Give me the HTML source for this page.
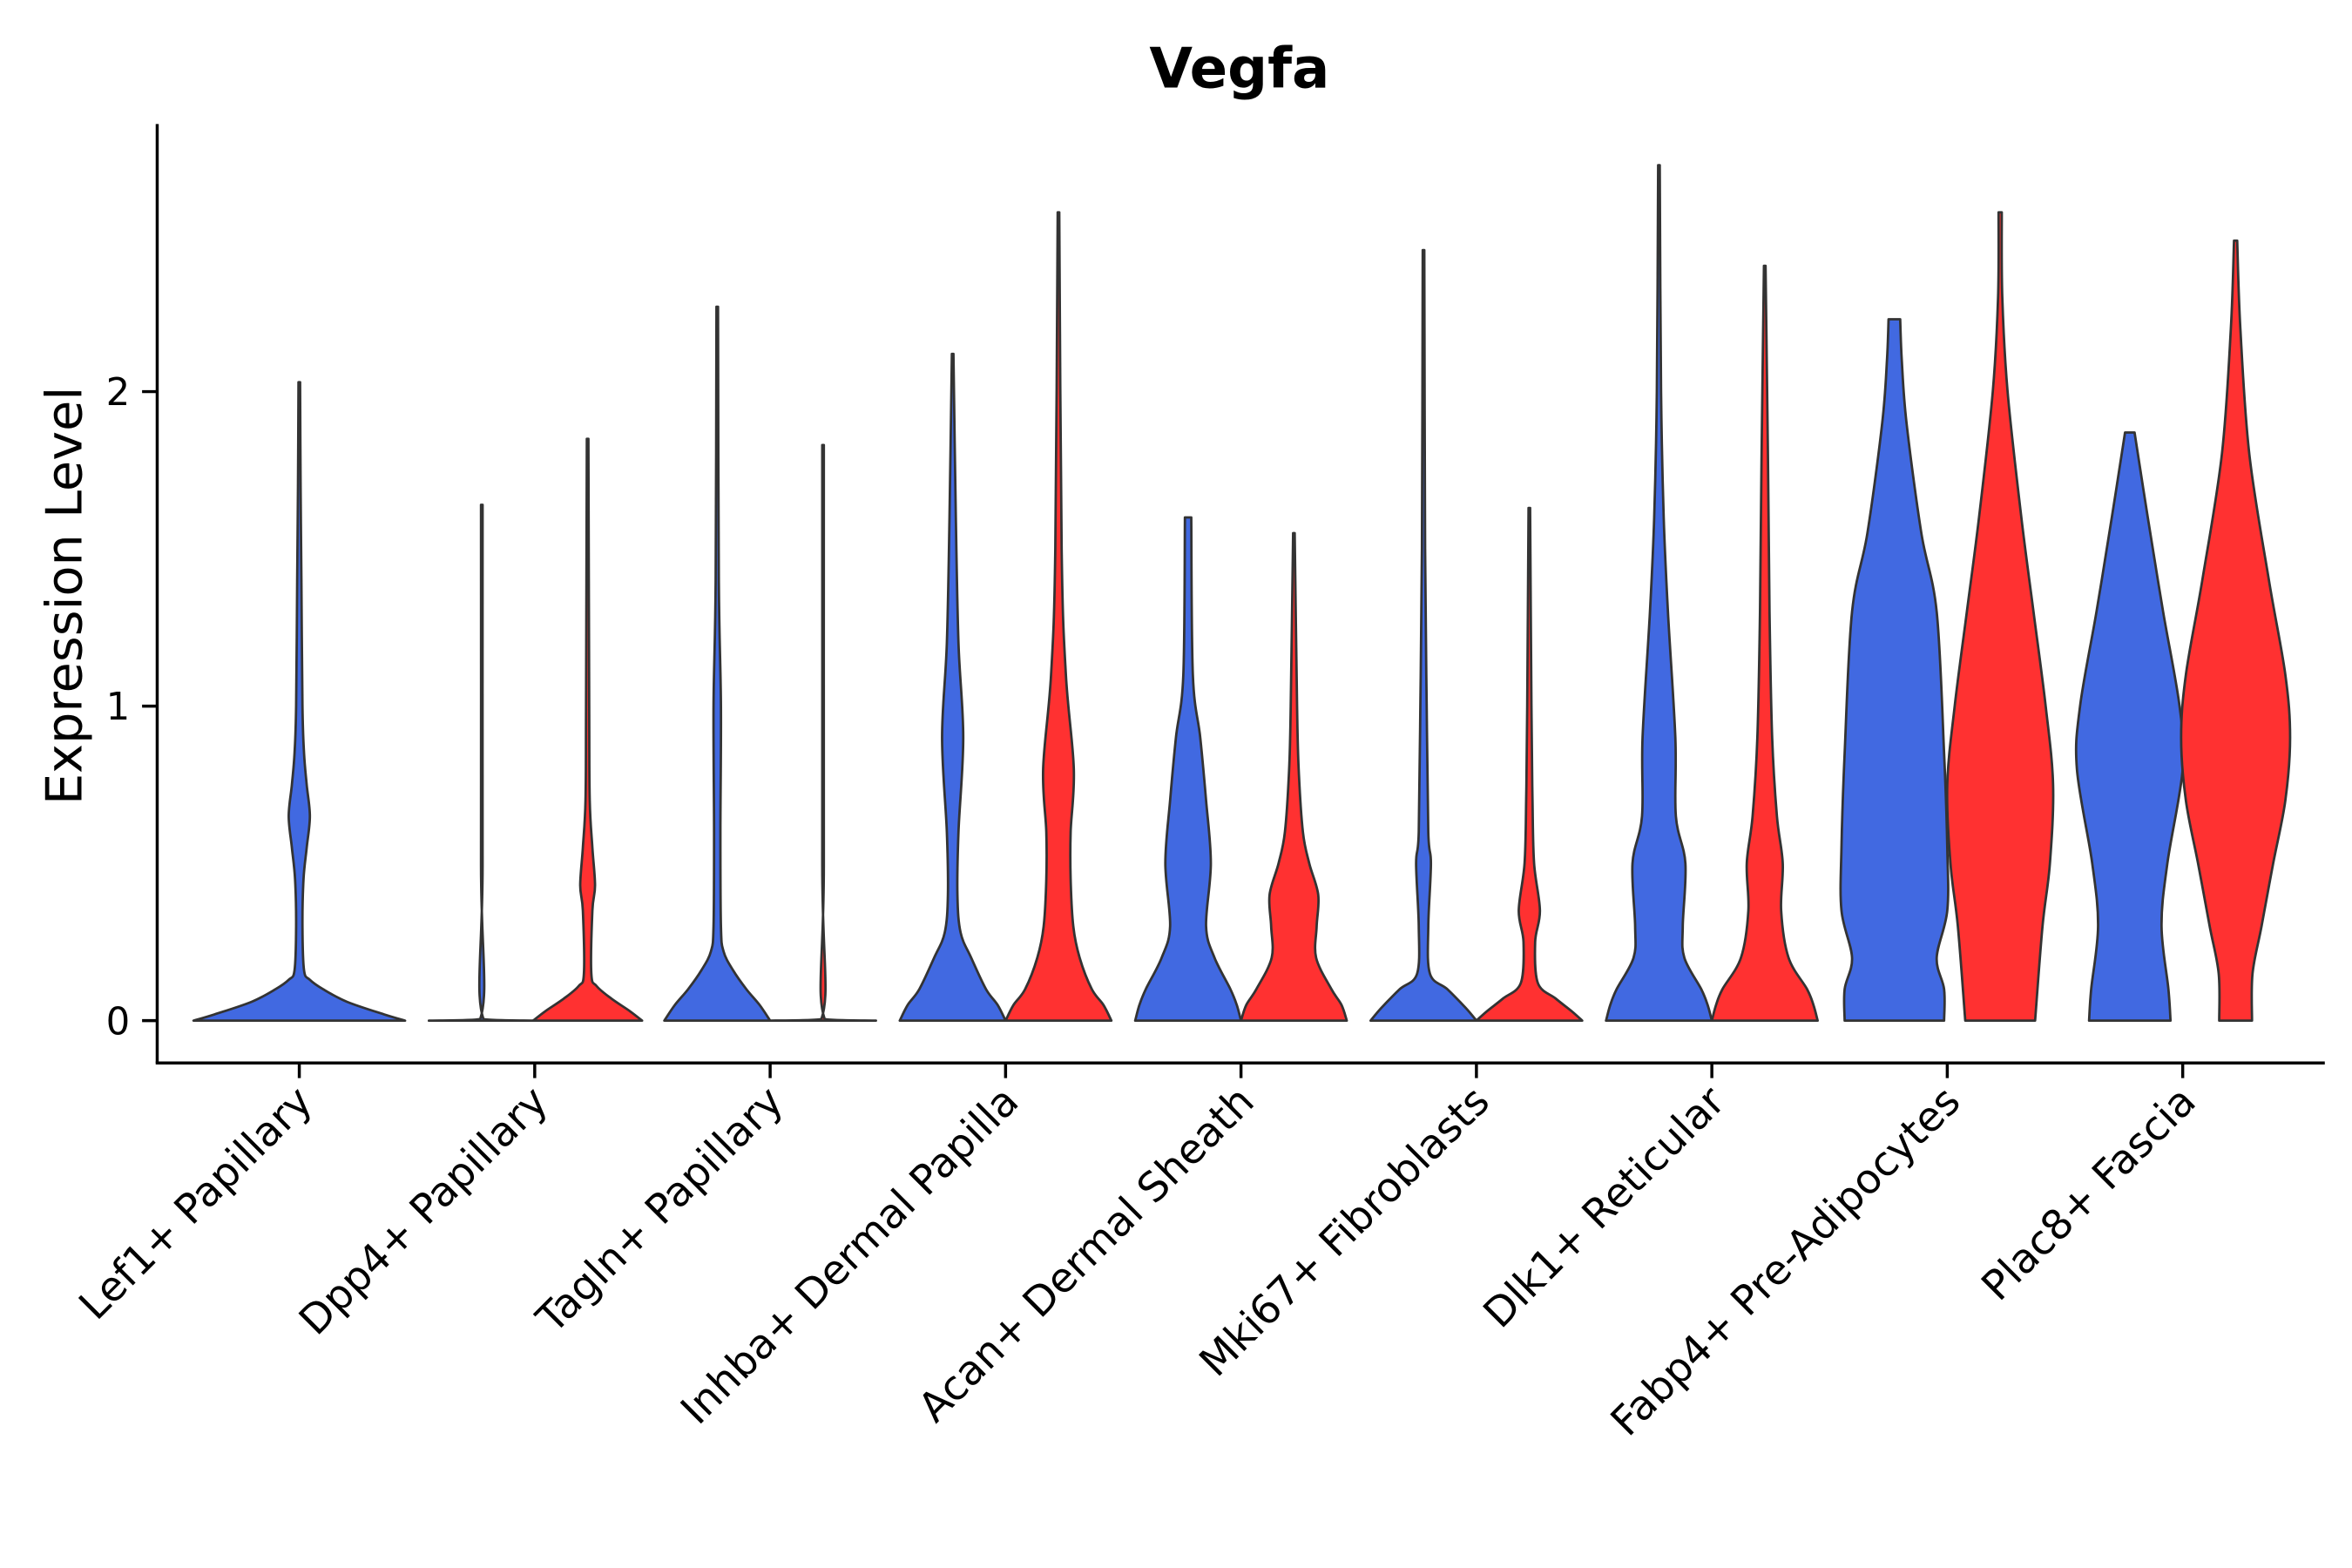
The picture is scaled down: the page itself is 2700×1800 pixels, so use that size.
<!DOCTYPE html>
<html><head><meta charset="utf-8"><style>
html,body{margin:0;padding:0;background:#fff;}
svg{display:block;font-family:"DejaVu Sans","Liberation Sans",sans-serif;}
</style></head><body>
<svg id="chart" width="2700" height="1800" viewBox="0 0 1556 1037" preserveAspectRatio="none" xmlns="http://www.w3.org/2000/svg">
<rect x="0" y="0" width="1556" height="1037" fill="#fff"/>
<text x="820" y="58" text-anchor="middle" font-weight="bold" font-size="37">Vegfa</text>
<text transform="translate(54,394) rotate(-90)" text-anchor="middle" font-size="33">Expression Level</text>
<g id="plot"></g>
<line x1="104" y1="82" x2="104" y2="703" stroke="#000" stroke-width="2"/>
<line x1="103" y1="703" x2="1538" y2="703" stroke="#000" stroke-width="2"/>
</svg>
<script>
const categories = ["Lef1+ Papillary","Dpp4+ Papillary","Tagln+ Papillary","Inhba+ Dermal Papilla","Acan+ Dermal Sheath","Mki67+ Fibroblasts","Dlk1+ Reticular","Fabp4+ Pre-Adipocytes","Plac8+ Fascia"];
const yTicks = [0, 1, 2];
// violin profiles: [expression value, relative density]
const blueLevels = [
 [[0,2],[0.02,1.6],[0.06,0.9],[0.1,0.45],[0.13,0.2],[0.16,0.09],[0.3,0.06],[0.45,0.08],[0.55,0.14],[0.65,0.2],[0.75,0.14],[0.85,0.09],[1.0,0.06],[1.4,0.04],[1.7,0.025],[2.03,0.015]],
 [[0,1],[0.005,0.03],[0.5,0.015],[1.64,0.015]],
 [[0,1],[0.05,0.8],[0.1,0.55],[0.16,0.3],[0.22,0.12],[0.3,0.07],[0.6,0.06],[1.0,0.07],[1.4,0.03],[2.27,0.015]],
 [[0,1],[0.05,0.85],[0.1,0.63],[0.2,0.35],[0.28,0.15],[0.4,0.09],[0.6,0.11],[0.9,0.2],[1.2,0.11],[1.6,0.06],[2.12,0.015]],
 [[0,1],[0.05,0.92],[0.1,0.8],[0.2,0.5],[0.3,0.34],[0.5,0.43],[0.7,0.34],[0.9,0.23],[1.1,0.09],[1.6,0.06]],
 [[0,1],[0.04,0.8],[0.1,0.45],[0.15,0.12],[0.3,0.09],[0.5,0.14],[0.6,0.09],[1.0,0.06],[1.5,0.03],[2.45,0.015]],
 [[0,1],[0.05,0.92],[0.1,0.8],[0.2,0.48],[0.3,0.45],[0.5,0.5],[0.65,0.32],[0.9,0.31],[1.3,0.17],[1.6,0.09],[2.0,0.04],[2.72,0.015]],
 [[0,0.94],[0.1,0.94],[0.2,0.8],[0.35,1],[0.55,1],[0.85,0.94],[1.3,0.8],[1.55,0.51],[1.9,0.23],[2.1,0.14],[2.23,0.11]],
 [[0,0.77],[0.1,0.73],[0.3,0.6],[0.5,0.71],[0.8,1],[1.0,0.94],[1.3,0.63],[1.6,0.34],[1.87,0.09]]
];
const redLevels = [
 null,
 [[0,1.03],[0.03,0.8],[0.07,0.45],[0.11,0.17],[0.15,0.07],[0.35,0.09],[0.43,0.14],[0.55,0.09],[0.7,0.04],[1.0,0.03],[1.85,0.015]],
 [[0,1],[0.005,0.03],[0.5,0.015],[1.83,0.015]],
 [[0,1],[0.05,0.85],[0.1,0.63],[0.2,0.4],[0.3,0.28],[0.45,0.23],[0.6,0.23],[0.8,0.29],[1.1,0.14],[1.5,0.06],[2.57,0.015]],
 [[0,1],[0.05,0.9],[0.1,0.71],[0.2,0.42],[0.3,0.43],[0.4,0.46],[0.5,0.29],[0.6,0.17],[0.8,0.09],[1.0,0.06],[1.55,0.015]],
 [[0,1],[0.03,0.8],[0.07,0.5],[0.12,0.16],[0.25,0.11],[0.35,0.2],[0.5,0.09],[0.7,0.06],[1.0,0.04],[1.63,0.015]],
 [[0,1],[0.05,0.92],[0.1,0.8],[0.2,0.45],[0.35,0.31],[0.5,0.34],[0.65,0.23],[0.9,0.14],[1.3,0.09],[1.8,0.06],[2.4,0.015]],
 [[0,0.66],[0.3,0.8],[0.5,0.94],[0.75,1],[1.0,0.86],[1.3,0.63],[1.6,0.4],[2.0,0.14],[2.3,0.04],[2.57,0.03]],
 [[0,0.31],[0.15,0.32],[0.3,0.49],[0.5,0.71],[0.7,0.94],[0.9,1.03],[1.1,0.94],[1.4,0.63],[1.8,0.26],[2.2,0.09],[2.48,0.03]]
];
const FIRST=198, STEP=155.75, Y0=675, UNIT=208, HALF=35, OFF=35;
function xCenter(i){return FIRST+STEP*i;}
function yScale(v){return Y0-v*UNIT;}
const NS="http://www.w3.org/2000/svg";
const svg=document.getElementById('chart');
const plot=document.getElementById('plot');
function clamp(v,a,b){const lo=Math.min(a,b),hi=Math.max(a,b);return Math.max(lo,Math.min(hi,v));}
function catmull(pts){
  let d="";
  for(let i=0;i<pts.length-1;i++){
    const p0=pts[Math.max(0,i-1)],p1=pts[i],p2=pts[i+1],p3=pts[Math.min(pts.length-1,i+2)];
    const c1=[p1[0]+(p2[0]-p0[0])/6,clamp(p1[1]+(p2[1]-p0[1])/6,p1[1],p2[1])];
    const c2=[p2[0]-(p3[0]-p1[0])/6,clamp(p2[1]-(p3[1]-p1[1])/6,p1[1],p2[1])];
    d+=" C"+c1[0].toFixed(2)+","+c1[1].toFixed(2)+" "+c2[0].toFixed(2)+","+c2[1].toFixed(2)+" "+p2[0].toFixed(2)+","+p2[1].toFixed(2);
  }
  return d;
}
function violin(prof,cx,color,name){
  const right=prof.map(p=>[cx+p[1]*HALF,yScale(p[0])]);
  const left=prof.slice().reverse().map(p=>[cx-p[1]*HALF,yScale(p[0])]);
  let d="M"+right[0][0].toFixed(2)+","+right[0][1].toFixed(2)+catmull(right);
  d+=" L"+left[0][0].toFixed(2)+","+left[0][1].toFixed(2)+catmull(left)+" Z";
  const path=document.createElementNS(NS,'path');
  path.setAttribute('d',d);
  path.setAttribute('fill',color);
  path.setAttribute('stroke','#333');
  path.setAttribute('stroke-width','1.6');
  path.setAttribute('stroke-linejoin','round');
  
  
  plot.appendChild(path);
}
categories.forEach((c,i)=>{
  const cx=xCenter(i);
  const slug=c.toLowerCase().replace(/[^a-z0-9]+/g,'-').replace(/-+$/,'');
  if(redLevels[i]){
    violin(blueLevels[i],cx-OFF,'#4169E1','violin-blue-'+slug);
    violin(redLevels[i],cx+OFF,'#FF3131','violin-red-'+slug);
  } else {
    violin(blueLevels[i],cx,'#4169E1','violin-blue-'+slug);
  }
  const t=document.createElementNS(NS,'line');
  t.setAttribute('x1',cx);t.setAttribute('x2',cx);t.setAttribute('y1',703);t.setAttribute('y2',713);
  t.setAttribute('stroke','#000');t.setAttribute('stroke-width','2');
  
  
  svg.appendChild(t);
  const lb=document.createElementNS(NS,'text');
  lb.textContent=c;
  lb.setAttribute('font-size','27');
  lb.setAttribute('text-anchor','end');
  lb.setAttribute('transform','translate('+(cx+10)+',730) rotate(-45)');
  
  
  svg.appendChild(lb);
});
yTicks.forEach(v=>{
  const y=yScale(v);
  const t=document.createElementNS(NS,'line');
  t.setAttribute('x1',94);t.setAttribute('x2',104);t.setAttribute('y1',y);t.setAttribute('y2',y);
  t.setAttribute('stroke','#000');t.setAttribute('stroke-width','2');
  
  
  svg.appendChild(t);
  const lb=document.createElementNS(NS,'text');
  lb.textContent=String(v);
  lb.setAttribute('x',86);lb.setAttribute('y',y+9);
  lb.setAttribute('font-size','25');lb.setAttribute('text-anchor','end');
  
  
  svg.appendChild(lb);
});
</script>
</body></html>
